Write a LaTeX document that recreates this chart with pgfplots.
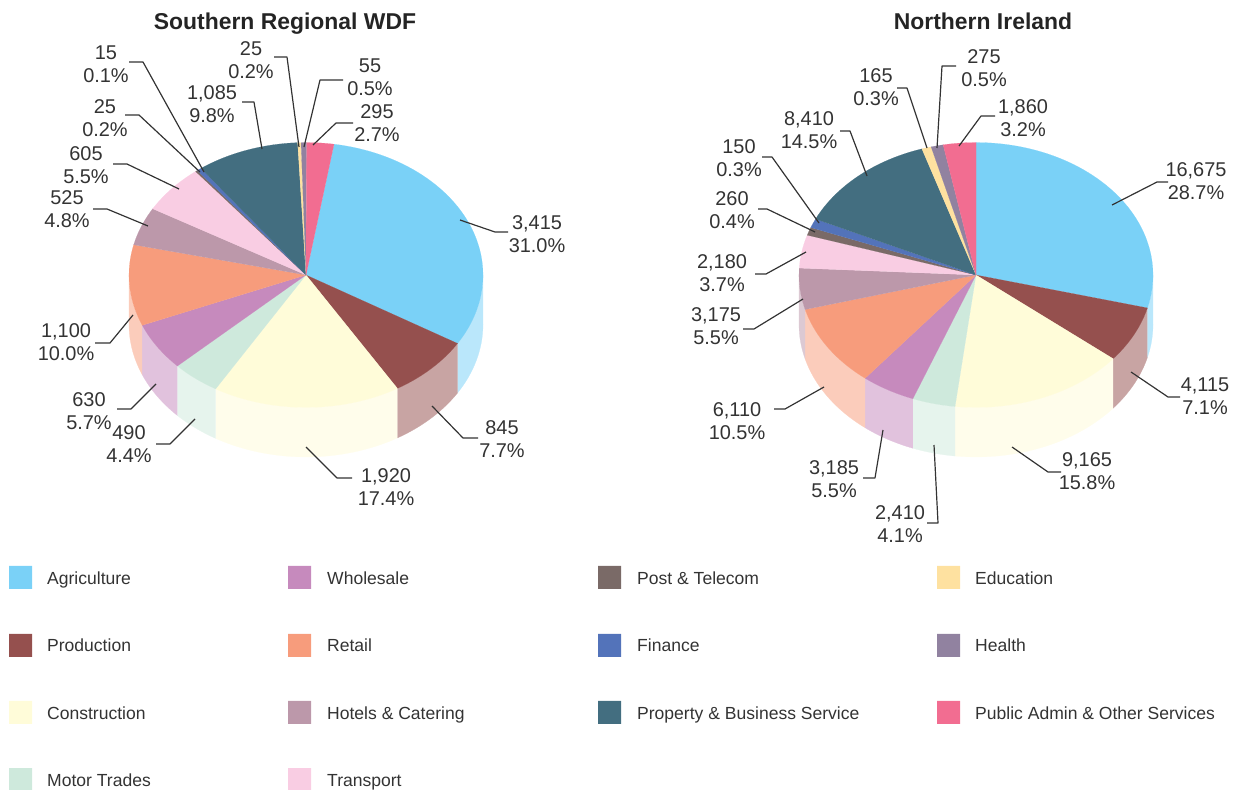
\documentclass[border=0pt]{standalone}
\usepackage{pgfplots}
\pgfplotsset{compat=1.18}
\usepackage{pgfplotstable}
\usepackage{fontspec}
\setmainfont{Liberation Sans}
\definecolor{txt}{HTML}{333333}
\definecolor{col0}{HTML}{7AD1F7}
\definecolor{col1}{HTML}{95504E}
\definecolor{col2}{HTML}{FFFCD9}
\definecolor{col3}{HTML}{CEE9DC}
\definecolor{col4}{HTML}{C68ABD}
\definecolor{col5}{HTML}{F79C7C}
\definecolor{col6}{HTML}{BC98AA}
\definecolor{col7}{HTML}{F9CDE3}
\definecolor{col8}{HTML}{7A6A67}
\definecolor{col9}{HTML}{5373BA}
\definecolor{col10}{HTML}{436E80}
\definecolor{col11}{HTML}{FEE1A0}
\definecolor{col12}{HTML}{9182A0}
\definecolor{col13}{HTML}{F26D91}
% Rows: Agriculture, Production, Construction, Motor Trades, Wholesale, Retail, Hotels & Catering,
% Transport, Post & Telecom, Finance, Property & Business Service, Education, Health, Public Admin.
% value = labelled value; span = the slice's extent in degrees
% (the reference draws its smallest slices wider than their share).
\pgfplotstableread{
value span
3415 112
845 27.8
1920 61.8
490 15.9
630 21.1
1100 35.5
525 16.8
605 21.4
25 0.7
15 1.5
1085 33.7
25 1.1
55 1.8
295 8.9
}\southern
\pgfplotstableread{
value span
16675 104.4
4115 24.8
9165 57.6
2410 14.1
3185 17.9
6110 36.1
3175 18.1
2180 14.5
260 3.5
150 4
8410 47.2
165 3.1
275 4
1860 10.7
}\northern
\newcommand\arcpts[4]{% cx cy t1 t2 : append to \coords
  \pgfmathsetmacro\dsp{#4-(#3)}%
  \pgfmathtruncatemacro\nn{max(1,ceil(abs(\dsp)/2))}%
  \foreach \s in {0,...,\nn}{%
    \pgfmathsetmacro\tv{#3+\dsp*\s/\nn}%
    \pgfmathsetmacro\px{#1+177*sin(\tv)}%
    \pgfmathsetmacro\py{#2-132.5*cos(\tv)}%
    \xdef\coords{\coords (\px,\py)}%
  }%
}
\newcommand\wedgeangles{%
  \pgfmathsetmacro\tone{\cum}%
  \pgfmathsetmacro\ttwo{\cum+\pgfplotsretval}%
  \xdef\cum{\ttwo}%
}
\newcommand\drawpie[3]{% table cx rotation
  \gdef\cum{#3}%
  \pgfplotsforeachungrouped \r in {0,...,13}{%
    \pgfplotstablegetelem{\r}{span}\of#1%
    \wedgeangles
    \pgfmathsetmacro\wa{max(\tone,90)}%
    \pgfmathsetmacro\wb{min(\ttwo,270)}%
    \ifdim\wa pt<\wb pt\relax
      \gdef\coords{}%
      \arcpts{#2}{275}{\wa}{\wb}%
      \arcpts{#2}{324.5}{\wb}{\wa}%
      \edef\tmp{\noexpand\addplot[forget plot,no marks,fill=col\r!52!white,draw=col\r!52!white,line width=0.2pt] coordinates {\coords};}%
      \tmp
    \fi
  }%
  \gdef\cum{#3}%
  \pgfplotsforeachungrouped \r in {0,...,13}{%
    \pgfplotstablegetelem{\r}{span}\of#1%
    \wedgeangles
    \xdef\coords{(#2,275)}%
    \arcpts{#2}{275}{\tone}{\ttwo}%
    \xdef\coords{\coords (#2,275)}%
    \edef\tmp{\noexpand\addplot[forget plot,no marks,fill=col\r,draw=col\r,line width=0.1pt] coordinates {\coords};}%
    \tmp
  }%
}
\newcommand\lead[1]{\addplot[forget plot,no marks,draw=txt,line width=1.2pt,line join=round] coordinates {#1};}
\tikzset{lbl/.style={text=txt,anchor=base,inner sep=0pt,font=\fontsize{20}{22.5}\selectfont}}
\newcommand\lab[4]{%
  \node[lbl] at (axis cs:#1,#2-4.1) {#3};
  \node[lbl] at (axis cs:#1,#2+18.4) {#4};}
\newcommand\swatch[5]{\addplot[forget plot,no marks,fill=#5,draw=none] coordinates {(#1,#3) (#2,#3) (#2,#4) (#1,#4) (#1,#3)};}
\newcommand\legtxt[3]{\node[text=txt,anchor=base west,inner sep=0pt,font=\fontsize{17.6}{20}\selectfont] at (axis cs:#1,#2+6.3) {#3};}
\newcommand\ttl[3]{\node[text=txt!70!black,anchor=base,inner sep=0pt,font=\fontsize{23}{26}\selectfont\bfseries] at (axis cs:#1,#2+8.2) {#3};}
\begin{document}
\begin{tikzpicture}
\begin{axis}[
  scale only axis,width=1237bp,height=790bp,
  xmin=0,xmax=1237,ymin=0,ymax=790,y dir=reverse,
  hide axis,clip=false]
\path (axis cs:0,0) rectangle (axis cs:1237,790);
\drawpie{\southern}{306}{9.1}
\drawpie{\northern}{976}{0}
% leader lines, Southern
\lead{(129,62) (143,62) (204,172)}
\lead{(125,115) (139,115) (200,172)}
\lead{(113,164) (127,164) (179,189)}
\lead{(93,209) (107,209) (148,226)}
\lead{(242,102) (254,102) (262,149)}
\lead{(274,57) (287,57) (299,147)}
\lead{(343,80) (320,80) (304,147)}
\lead{(353,123) (336,123) (313,145)}
\lead{(508,232) (495,232) (460,220)}
\lead{(478,438) (463,438) (432,406)}
\lead{(352,478) (337,478) (306,447)}
\lead{(156,444) (170,444) (195,419)}
\lead{(117,409) (131,409) (156,384)}
\lead{(95,343) (110,343) (133,315)}
% leader lines, Northern
\lead{(956,66) (942,66) (937,148)}
\lead{(897,88) (907,88) (927,148)}
\lead{(995,116) (981,116) (959,146)}
\lead{(840,131) (850,131) (867,176)}
\lead{(762,157) (772,157) (819,223)}
\lead{(758,209) (767,209) (815,232)}
\lead{(755,274) (766,274) (806,252)}
\lead{(743,329) (754,329) (803,299)}
\lead{(774,409) (785,409) (824,387)}
\lead{(863,478) (875,478) (883,430)}
\lead{(927,523) (938,523) (934,445)}
\lead{(1168,182) (1157,182) (1112,205)}
\lead{(1180,397) (1168,397) (1131,372)}
\lead{(1061,472) (1048,472) (1012,447)}
% legend swatches
\swatch{9}{32}{566}{589}{col0}
\swatch{9}{32}{634}{657}{col1}
\swatch{9}{32}{701}{724}{col2}
\swatch{9}{32}{768}{790}{col3}
\swatch{288}{311}{566}{589}{col4}
\swatch{288}{311}{634}{657}{col5}
\swatch{288}{311}{701}{724}{col6}
\swatch{288}{311}{768}{790}{col7}
\swatch{598}{621}{566}{589}{col8}
\swatch{598}{621}{634}{657}{col9}
\swatch{598}{621}{701}{724}{col10}
\swatch{937}{960}{566}{589}{col11}
\swatch{937}{960}{634}{657}{col12}
\swatch{937}{960}{701}{724}{col13}
% titles
\ttl{285}{21}{Southern Regional WDF}
\ttl{983}{21}{Northern Ireland}
% labels, Southern
\lab{106}{64}{15}{0.1\%}
\lab{105}{118}{25}{0.2\%}
\lab{86}{165}{605}{5.5\%}
\lab{67}{209}{525}{4.8\%}
\lab{212}{104}{1,085}{9.8\%}
\lab{251}{60}{25}{0.2\%}
\lab{370}{77}{55}{0.5\%}
\lab{377}{123}{295}{2.7\%}
\lab{537}{234}{3,415}{31.0\%}
\lab{502}{439}{845}{7.7\%}
\lab{386}{487}{1,920}{17.4\%}
\lab{129}{444}{490}{4.4\%}
\lab{89}{411}{630}{5.7\%}
\lab{66}{342}{1,100}{10.0\%}
% labels, Northern
\lab{984}{68}{275}{0.5\%}
\lab{876}{87}{165}{0.3\%}
\lab{1023}{118}{1,860}{3.2\%}
\lab{809}{130}{8,410}{14.5\%}
\lab{739}{158}{150}{0.3\%}
\lab{732}{210}{260}{0.4\%}
\lab{722}{273}{2,180}{3.7\%}
\lab{716}{326}{3,175}{5.5\%}
\lab{737}{421}{6,110}{10.5\%}
\lab{834}{479}{3,185}{5.5\%}
\lab{900}{524}{2,410}{4.1\%}
\lab{1196}{181}{16,675}{28.7\%}
\lab{1205}{396}{4,115}{7.1\%}
\lab{1087}{471}{9,165}{15.8\%}
% legend text
\legtxt{47}{578}{Agriculture}
\legtxt{47}{645}{Production}
\legtxt{47}{713}{Construction}
\legtxt{47}{780}{Motor Trades}
\legtxt{327}{578}{Wholesale}
\legtxt{327}{645}{Retail}
\legtxt{327}{713}{Hotels \& Catering}
\legtxt{327}{780}{Transport}
\legtxt{637}{578}{Post \& Telecom}
\legtxt{637}{645}{Finance}
\legtxt{637}{713}{Property \& Business Service}
\legtxt{975}{578}{Education}
\legtxt{975}{645}{Health}
\legtxt{975}{713}{Public Admin \& Other Services}
\end{axis}
\end{tikzpicture}
\end{document}
